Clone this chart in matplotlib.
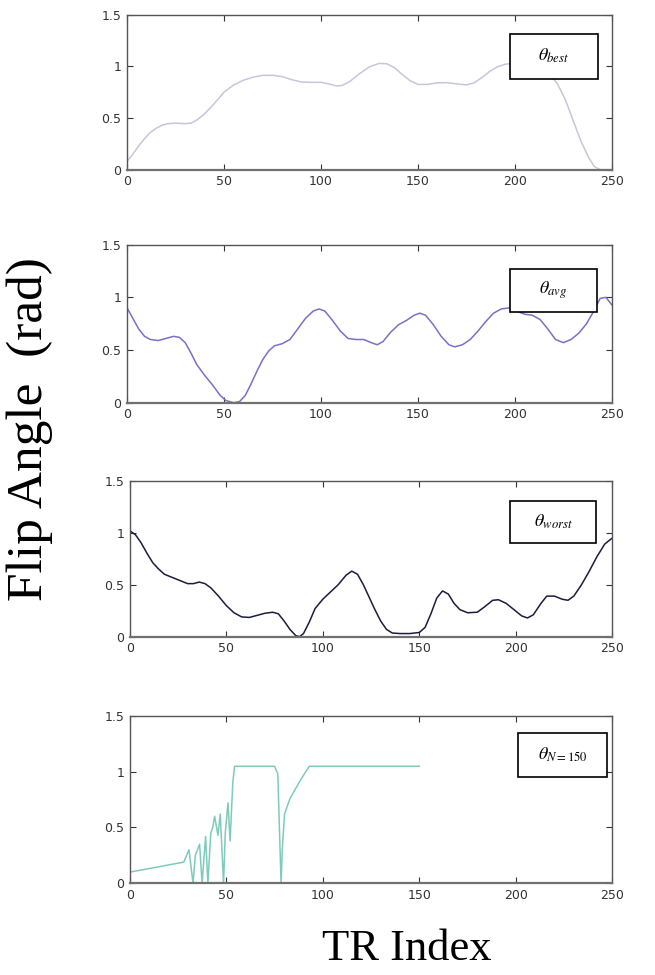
import numpy as np
import matplotlib
matplotlib.use('Agg')
import matplotlib.pyplot as plt
from matplotlib.patches import Rectangle

plt.rcParams['mathtext.fontset'] = 'stix'

# theta_best
best_x = [0, 3, 6, 9, 12, 15, 18, 21, 25, 30, 33, 36, 40, 45, 50, 55, 60, 65, 70, 75, 80, 85,
          90, 95, 100, 104, 108, 111, 115, 120, 125, 130, 134, 138, 142, 146, 150, 155, 160,
          165, 170, 175, 179, 183, 187, 191, 195, 200, 205, 210, 214, 218, 222, 226, 230, 234,
          238, 241, 244, 250]
best_y = [0.08, 0.15, 0.23, 0.3, 0.36, 0.4, 0.43, 0.445, 0.45, 0.445, 0.45, 0.48, 0.54, 0.64,
          0.75, 0.82, 0.865, 0.895, 0.912, 0.913, 0.9, 0.87, 0.848, 0.845, 0.845, 0.83, 0.81,
          0.815, 0.855, 0.93, 0.995, 1.028, 1.025, 0.985, 0.92, 0.86, 0.825, 0.825, 0.84, 0.842,
          0.83, 0.82, 0.84, 0.89, 0.95, 0.995, 1.02, 1.03, 1.02, 1.0, 0.97, 0.92, 0.83, 0.68,
          0.48, 0.28, 0.12, 0.03, 0.0, 0.0]

# theta_avg
avg_x = [0, 3, 6, 9, 12, 16, 20, 24, 27, 30, 33, 36, 40, 44, 48, 51, 55, 58, 61, 64, 67, 70,
         73, 76, 80, 84, 88, 92, 96, 99, 102, 106, 110, 114, 118, 122, 126, 129, 132, 136, 140,
         144, 148, 151, 154, 158, 162, 166, 169, 173, 177, 181, 185, 189, 193, 197, 201, 205,
         209, 213, 217, 221, 225, 229, 233, 237, 241, 244, 247, 250]
avg_y = [0.9, 0.8, 0.7, 0.63, 0.6, 0.59, 0.61, 0.63, 0.62, 0.57, 0.47, 0.36, 0.26, 0.17, 0.07,
         0.02, 0.0, 0.01, 0.07, 0.18, 0.3, 0.41, 0.49, 0.54, 0.56, 0.6, 0.7, 0.8, 0.87, 0.89,
         0.87, 0.78, 0.68, 0.61, 0.6, 0.6, 0.57, 0.55, 0.58, 0.67, 0.74, 0.78, 0.83, 0.85, 0.83,
         0.74, 0.63, 0.55, 0.53, 0.55, 0.6, 0.68, 0.77, 0.85, 0.89, 0.9, 0.87, 0.84, 0.83, 0.79,
         0.7, 0.6, 0.57, 0.6, 0.66, 0.75, 0.88, 0.99, 1.0, 0.93]

# theta_worst
worst_x = [0, 3, 6, 9, 12, 15, 18, 22, 26, 30, 33, 36, 39, 42, 46, 50, 54, 58, 62, 66, 70, 74,
           77, 80, 83, 86, 88, 90, 93, 96, 100, 104, 108, 112, 115, 118, 121, 124, 127, 130,
           133, 136, 140, 145, 150, 153, 156, 159, 162, 165, 168, 171, 175, 180, 184, 188, 191,
           195, 199, 203, 206, 209, 213, 216, 220, 224, 227, 230, 234, 238, 242, 246, 250]
worst_y = [1.02, 0.98, 0.9, 0.8, 0.71, 0.65, 0.6, 0.57, 0.54, 0.51, 0.51, 0.525, 0.51, 0.47,
           0.39, 0.3, 0.23, 0.19, 0.185, 0.205, 0.225, 0.235, 0.22, 0.15, 0.07, 0.01, 0.0, 0.03,
           0.14, 0.27, 0.36, 0.43, 0.5, 0.59, 0.63, 0.6, 0.5, 0.38, 0.26, 0.15, 0.07, 0.035,
           0.03, 0.03, 0.04, 0.09, 0.22, 0.37, 0.44, 0.41, 0.32, 0.26, 0.23, 0.235, 0.29, 0.35,
           0.355, 0.32, 0.26, 0.2, 0.18, 0.21, 0.32, 0.39, 0.39, 0.36, 0.35, 0.39, 0.5, 0.63,
           0.77, 0.89, 0.95]

# theta_N=150
n150_x = [0, 28, 30.7, 32.8, 34, 36.2, 37.5, 39.3, 40.5, 42, 43, 44, 45.7, 46.9, 48.6, 49.5,
          50.9, 52, 53.4, 54.3, 60, 70, 75, 76.7, 78.4, 79, 80.2, 82.8, 85, 88, 90.5, 93,
          100, 120, 150]
n150_y = [0.1, 0.19, 0.3, 0.0, 0.25, 0.35, 0.0, 0.42, 0.0, 0.45, 0.5, 0.6, 0.43, 0.62, 0.0,
          0.45, 0.72, 0.38, 0.9, 1.047, 1.047, 1.047, 1.047, 0.98, 0.0, 0.3, 0.62, 0.75, 0.82,
          0.91, 0.98, 1.047, 1.047, 1.047, 1.047]

series = [
    (best_x, best_y, '#c6c6dc', r'$\theta_{best}$'),
    (avg_x, avg_y, '#7a70c6', r'$\theta_{avg}$'),
    (worst_x, worst_y, '#1c1c3c', r'$\theta_{worst}$'),
    (n150_x, n150_y, '#7fcbbb', r'$\theta_{N=150}$'),
]

# axes rects [left, bottom, width, height]
rects = [[0.194, 0.826, 0.740, 0.159],
         [0.194, 0.587, 0.740, 0.162],
         [0.198, 0.347, 0.737, 0.160],
         [0.198, 0.094, 0.737, 0.172]]
boxes = [(0.79, 0.587, 0.181, 0.29),
         (0.79, 0.576, 0.179, 0.272),
         (0.787, 0.603, 0.18, 0.269),
         (0.805, 0.635, 0.183, 0.263)]

fig = plt.figure(figsize=(6.55, 9.75), dpi=100)

for (x, y, col, lab), r, b in zip(series, rects, boxes):
    ax = fig.add_axes(r)
    ax.plot(x, y, color=col, lw=1.1)
    ax.set_xlim(0, 250)
    ax.set_ylim(0, 1.5)
    ax.set_xticks([0, 50, 100, 150, 200, 250])
    ax.set_yticks([0, 0.5, 1, 1.5])
    ax.set_yticklabels(['0', '0.5', '1', '1.5'])
    ax.tick_params(direction='in', top=True, right=True, length=4, width=0.8,
                   labelsize=9, colors='#333333', pad=4)
    for lbl in ax.get_xticklabels() + ax.get_yticklabels():
        lbl.set_family('Liberation Sans Narrow')
    for s in ax.spines.values():
        s.set_color('#555555')
        s.set_linewidth(1.0)
    ax.spines['bottom'].set_color('#707070')
    ax.spines['bottom'].set_linewidth(1.6)
    ax.add_patch(Rectangle((b[0], b[1]), b[2], b[3], transform=ax.transAxes,
                           facecolor='white', edgecolor='black', lw=1.2, zorder=5))
    ax.text(b[0] + b[2] / 2, b[1] + b[3] / 2, lab, transform=ax.transAxes,
            ha='center', va='center', fontsize=13, zorder=6)

fig.text(0.046, 0.56, 'Flip Angle  (rad)', rotation=90, ha='center', va='center',
         family='Liberation Serif', fontsize=37)
fig.text(0.621, 0.027, 'TR Index', ha='center', va='center',
         family='Liberation Serif', fontsize=32)

fig.savefig('out.png', dpi=100)
